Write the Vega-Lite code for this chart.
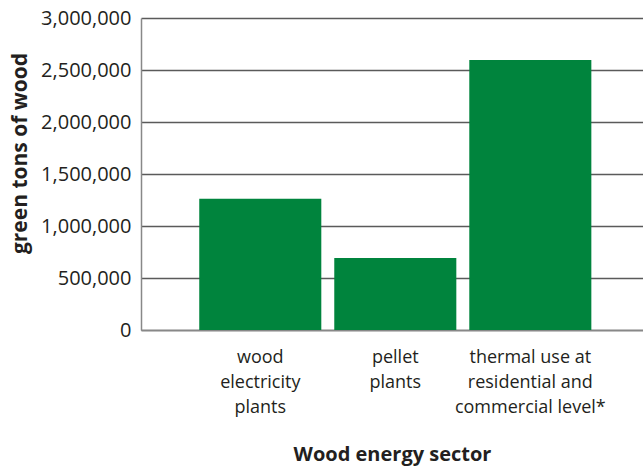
{
  "$schema": "https://vega.github.io/schema/vega-lite/v6.json",
  "width": 502,
  "height": 312,
  "autosize": "none",
  "padding": {"left": 141, "top": 18, "right": 0, "bottom": 136},
  "background": "white",
  "config": {
    "view": {"stroke": null},
    "font": "Open Sans",
    "axis": {"labelColor": "#231F20", "titleColor": "#231F20"}
  },
  "data": {
    "values": [
      {"sector": "wood electricity plants", "tons": 1262000},
      {"sector": "pellet plants", "tons": 692000},
      {"sector": "thermal use at residential and commercial level*", "tons": 2597000}
    ]
  },
  "mark": {"type": "bar", "color": "#00843D"},
  "encoding": {
    "x": {
      "field": "sector",
      "type": "nominal",
      "sort": null,
      "scale": {"paddingInner": 0.096, "paddingOuter": 0.407, "align": 0.53},
      "axis": {
        "title": "Wood energy sector",
        "titleFontSize": 20,
        "titleFontWeight": "bold",
        "titlePadding": 28,
        "labelAngle": 0,
        "labelFontSize": 18,
        "labelLineHeight": 25,
        "labelPadding": 18,
        "labelBaseline": "top",
        "ticks": false,
        "domainColor": "#888",
        "domainWidth": 1.5,
        "labelExpr": "datum.value == 'wood electricity plants' ? ['wood', 'electricity', 'plants'] : datum.value == 'pellet plants' ? ['pellet', 'plants'] : ['thermal use at', 'residential and', 'commercial level*']"
      }
    },
    "y": {
      "field": "tons",
      "type": "quantitative",
      "scale": {"domain": [0, 3000000], "nice": false},
      "axis": {
        "title": "green tons of wood",
        "titleFontSize": 21,
        "titleFontWeight": "bold",
        "titlePadding": 10,
        "titleY": 135,
        "values": [0, 500000, 1000000, 1500000, 2000000, 2500000, 3000000],
        "format": ",d",
        "labelFontSize": 20,
        "labelPadding": 10,
        "ticks": false,
        "grid": true,
        "gridColor": "#5a5a5a",
        "gridWidth": 1.5,
        "domainColor": "#888",
        "domainWidth": 1.5
      }
    }
  }
}
